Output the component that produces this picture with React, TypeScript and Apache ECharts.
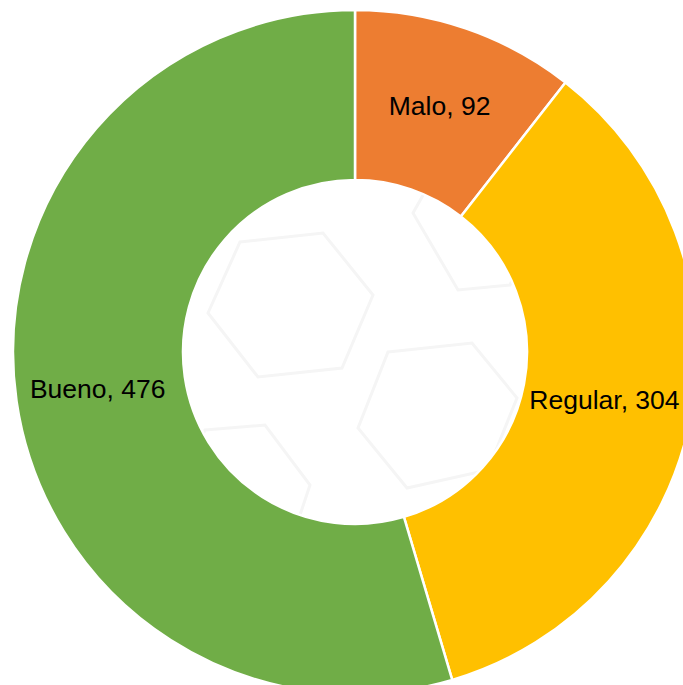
import React, { useEffect, useRef } from "react";
import * as echarts from "echarts";

const categories = ["Malo", "Regular", "Bueno"];
const values = [92, 304, 476];
const colors = ["#ED7D31", "#FFC000", "#70AD47"];

const hexagons: number[][][] = [
  [[240, 242], [323, 233], [373, 295], [342, 368], [258, 377], [208, 313]],
  [[388, 352], [472, 343], [517, 398], [488, 470], [407, 488], [358, 428]],
  [[413, 213], [458, 290], [510, 285], [540, 220], [500, 160], [440, 165]],
  [[205, 430], [265, 425], [310, 485], [285, 560], [210, 570], [170, 510]],
];

export default function App() {
  const ref = useRef<HTMLDivElement>(null);
  useEffect(() => {
    if (!ref.current) return;
    const chart = echarts.init(ref.current, null, { renderer: "svg" });
    chart.setOption({
      animation: false,
      backgroundColor: "#ffffff",
      graphic: hexagons.map((pts) => ({
        type: "polygon",
        z: -10,
        silent: true,
        shape: { points: pts },
        style: { fill: "none", stroke: "#f5f5f5", lineWidth: 3 },
      })),
      series: [
        {
          type: "pie",
          center: [355, 352],
          radius: [172, 342],
          startAngle: 90,
          clockwise: true,
          avoidLabelOverlap: false,
          itemStyle: { borderColor: "#ffffff", borderWidth: 2.5 },
          label: {
            show: true,
            position: "inside",
            formatter: "{b}, {c}",
            color: "#000000",
            fontSize: 26.5,
            fontFamily: "Liberation Sans, Arial, sans-serif",
          },
          labelLine: { show: false },
          emphasis: { disabled: true },
          data: categories.map((c, i) => ({
            name: c,
            value: values[i],
            itemStyle: { color: colors[i] },
            label: c === "Regular" ? { offset: [-6, 0] } : undefined,
          })),
        },
      ],
    });
    return () => chart.dispose();
  }, []);
  return (
    <div
      ref={ref}
      style={{ position: "fixed", left: 0, top: 0, width: 683, height: 685 }}
    />
  );
}
